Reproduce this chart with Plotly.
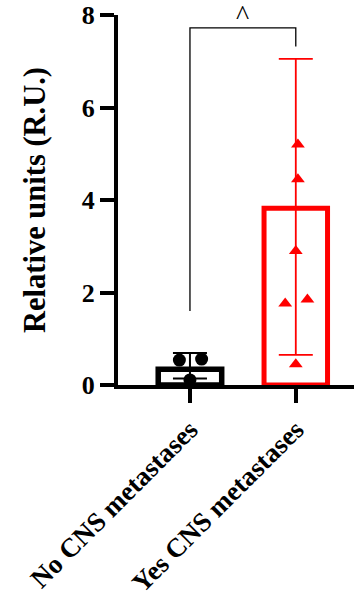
import plotly.graph_objects as go

categories = ["No CNS metastases", "Yes CNS metastases"]
bar_means = [0.34, 3.82]
err_plus = [0.35, 3.23]
err_minus = [0.20, 3.17]
no_points = [0.54, 0.56, 0.11]
no_jitter = [-0.1, 0.11, 0.0]
yes_points = [5.2, 4.45, 2.9, 1.76, 1.85, 0.45]
yes_jitter = [0.02, 0.02, 0.0, -0.1, 0.11, 0.0]
bracket_y = 7.72
bracket_left_end = 1.6
bracket_right_end = 7.32
sig_label = "^"
y_ticks = [0, 2, 4, 6, 8]

FONT = "Liberation Serif"
fig = go.Figure()

fig.add_trace(go.Bar(
    x=[0], y=[bar_means[0]], width=0.6,
    marker=dict(color="white", line=dict(color="black", width=5.5)),
    error_y=dict(type="data", symmetric=False, array=[err_plus[0]], arrayminus=[err_minus[0]],
                 color="black", thickness=2, width=17),
    showlegend=False))
fig.add_trace(go.Bar(
    x=[1], y=[bar_means[1]], width=0.6,
    marker=dict(color="rgba(0,0,0,0)", line=dict(color="#ff0000", width=5)),
    error_y=dict(type="data", symmetric=False, array=[err_plus[1]], arrayminus=[err_minus[1]],
                 color="#ff0000", thickness=1.8, width=17),
    showlegend=False))

fig.add_trace(go.Scatter(
    x=[0 + j for j in no_jitter], y=no_points, mode="markers",
    marker=dict(symbol="circle", size=13, color="black"), showlegend=False, cliponaxis=False))
fig.add_trace(go.Scatter(
    x=[1 + j for j in yes_jitter], y=yes_points, mode="markers",
    marker=dict(symbol="triangle-up", size=12, color="#ff0000"), showlegend=False, cliponaxis=False))

fig.add_trace(go.Scatter(
    x=[0, 0, 1, 1], y=[bracket_left_end, bracket_y, bracket_y, bracket_right_end],
    mode="lines", line=dict(color="black", width=1.3), showlegend=False, cliponaxis=False))

fig.add_annotation(x=0.5, y=bracket_y, text=sig_label, showarrow=False,
                   yanchor="bottom", yshift=-4, font=dict(family=FONT, size=28, color="black"))

fig.update_layout(
    width=354, height=598,
    margin=dict(l=118, r=0, t=15, b=211),
    plot_bgcolor="white", paper_bgcolor="white",
    barmode="overlay",
    xaxis=dict(range=[-0.68, 1.55], tickvals=[0, 1], ticktext=categories, tickangle=-45,
               showline=True, linecolor="black", linewidth=4,
               ticks="outside", ticklen=14, tickwidth=4, tickcolor="black",
               tickfont=dict(family=FONT, size=27, color="black", weight="bold"),
               showgrid=False, zeroline=False),
    yaxis=dict(range=[0, 8], tickvals=y_ticks,
               showline=True, linecolor="black", linewidth=4,
               ticks="outside", ticklen=14, tickwidth=4, tickcolor="black",
               tickfont=dict(family=FONT, size=26, color="black", weight="bold"),
               title=dict(text="Relative units (R.U.)", standoff=28,
                          font=dict(family=FONT, size=30.5, color="black", weight="bold")),
               showgrid=False, zeroline=False),
)

fig.write_html("out.html", config={"displayModeBar": False},
               post_script="document.body.style.margin='0';")
